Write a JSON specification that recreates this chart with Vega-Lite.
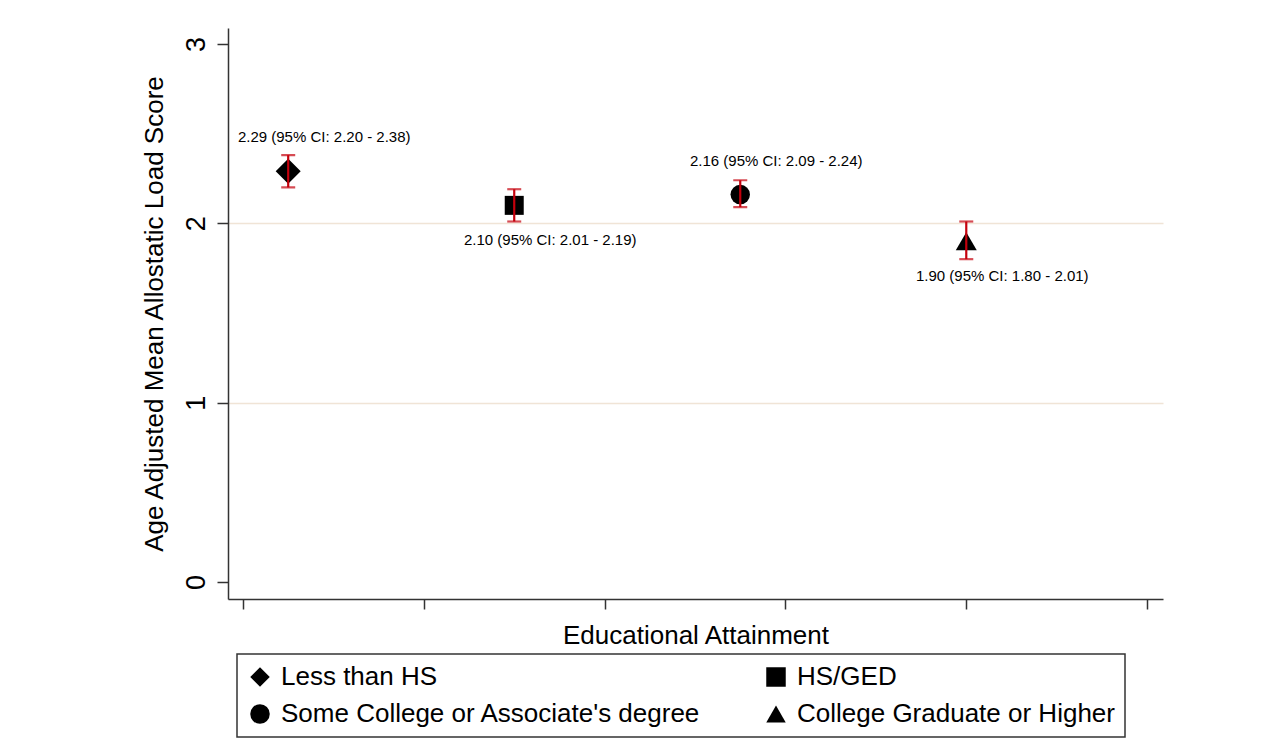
{
  "$schema": "https://vega.github.io/schema/vega-lite/v6.json",
  "width": 935,
  "height": 571,
  "autosize": {"type": "none"},
  "padding": {"left": 228, "top": 28, "right": 124, "bottom": 140},
  "background": "white",
  "config": {"view": {"stroke": null}, "font": "Liberation Sans", "legend": {"strokeColor": "#333333", "strokeWidth": 1.5}},
  "data": {
    "values": [
      {"cat": "Less than HS", "x": 0.25, "mean": 2.29, "lo": 2.20, "hi": 2.38, "label": "2.29 (95% CI: 2.20 - 2.38)"},
      {"cat": "HS/GED", "x": 1.5, "mean": 2.10, "lo": 2.01, "hi": 2.19, "label": "2.10 (95% CI: 2.01 - 2.19)"},
      {"cat": "Some College or Associate's degree", "x": 2.75, "mean": 2.16, "lo": 2.09, "hi": 2.24, "label": "2.16 (95% CI: 2.09 - 2.24)"},
      {"cat": "College Graduate or Higher", "x": 4, "mean": 1.90, "lo": 1.80, "hi": 2.01, "label": "1.90 (95% CI: 1.80 - 2.01)"}
    ]
  },
  "encoding": {
    "x": {
      "field": "x", "type": "quantitative",
      "scale": {"domain": [-0.083, 5.088], "nice": false, "zero": false},
      "axis": {
        "values": [0, 1, 2, 3, 4, 5], "labels": false, "grid": false,
        "title": "Educational Attainment",
        "tickSize": 10, "tickColor": "#333333", "tickWidth": 1.5,
        "domainColor": "#333333", "domainWidth": 1.5,
        "titleFontSize": 26, "titleFontWeight": "normal", "titleColor": "black",
        "titleFont": "Liberation Sans", "titleY": 44, "titleBaseline": "alphabetic"
      }
    },
    "y": {
      "field": "mean", "type": "quantitative",
      "scale": {"domain": [-0.095, 3.089], "nice": false, "zero": false},
      "axis": {
        "values": [0, 1, 2, 3], "format": "d",
        "title": "Age Adjusted Mean Allostatic Load Score",
        "labelAngle": -90, "labelAlign": "center", "labelBaseline": "alphabetic",
        "labelFontSize": 27, "labelPadding": 13, "labelColor": "black", "labelFont": "Liberation Sans",
        "tickSize": 11, "tickColor": "#333333", "tickWidth": 1.5,
        "domainColor": "#333333", "domainWidth": 1.5,
        "grid": true, "gridColor": "#f0e4d6", "gridWidth": 1.5,
        "gridOpacity": {"condition": {"test": "datum.value == 1 || datum.value == 2", "value": 1}, "value": 0},
        "titleFontSize": 26, "titleFontWeight": "normal", "titleColor": "black",
        "titleFont": "Liberation Sans", "titleX": -66, "titleBaseline": "alphabetic"
      }
    }
  },
  "layer": [
    {
      "encoding": {
        "shape": {
          "field": "cat", "type": "nominal",
          "scale": {
            "domain": ["Less than HS", "HS/GED", "Some College or Associate's degree", "College Graduate or Higher"],
            "range": ["diamond", "square", "circle", "triangle-up"]
          },
          "legend": {
            "orient": "none", "legendX": 9, "legendY": 626,
            "title": null, "columns": 2, "direction": "horizontal",
            "labelFontSize": 26, "labelFont": "Liberation Sans", "labelColor": "black", "labelLimit": 0,
            "symbolSize": 380, "symbolFillColor": "black", "symbolStrokeColor": "black", "symbolOpacity": 1,
            "labelOffset": 8, "columnPadding": 62, "rowPadding": 11, "padding": 10,
            "strokeColor": "#333333"
          }
        }
      },
      "layer": [
        {
          "transform": [{"filter": "datum.cat == 'Less than HS'"}],
          "mark": {"type": "point", "filled": true, "opacity": 1, "color": "black", "size": 625}
        },
        {
          "transform": [{"filter": "datum.cat == 'HS/GED'"}],
          "mark": {"type": "point", "filled": true, "opacity": 1, "color": "black", "size": 361}
        },
        {
          "transform": [{"filter": "datum.cat == \"Some College or Associate's degree\""}],
          "mark": {"type": "point", "filled": true, "opacity": 1, "color": "black", "size": 380}
        },
        {
          "transform": [{"filter": "datum.cat == 'College Graduate or Higher'"}],
          "mark": {"type": "point", "filled": true, "opacity": 1, "color": "black", "size": 441}
        }
      ]
    },
    {
      "mark": {"type": "rule", "color": "#c4000c", "strokeWidth": 2.2},
      "encoding": {
        "y": {"field": "lo", "type": "quantitative"},
        "y2": {"field": "hi"}
      }
    },
    {
      "mark": {"type": "tick", "orient": "horizontal", "color": "#c4000c", "size": 14, "thickness": 2.2},
      "encoding": {"y": {"field": "lo", "type": "quantitative"}}
    },
    {
      "mark": {"type": "tick", "orient": "horizontal", "color": "#c4000c", "size": 14, "thickness": 2.2},
      "encoding": {"y": {"field": "hi", "type": "quantitative"}}
    },
    {
      "transform": [{"filter": "datum.cat == 'Less than HS' || datum.cat == \"Some College or Associate's degree\""}],
      "mark": {"type": "text", "dx": 36, "dy": -29, "fontSize": 15, "font": "Liberation Sans", "color": "black", "align": "center", "baseline": "alphabetic"},
      "encoding": {
        "text": {"field": "label"}
      }
    },
    {
      "transform": [{"filter": "datum.cat == 'HS/GED' || datum.cat == 'College Graduate or Higher'"}],
      "mark": {"type": "text", "dx": 36, "dy": 40, "fontSize": 15, "font": "Liberation Sans", "color": "black", "align": "center", "baseline": "alphabetic"},
      "encoding": {
        "text": {"field": "label"}
      }
    }
  ]
}
